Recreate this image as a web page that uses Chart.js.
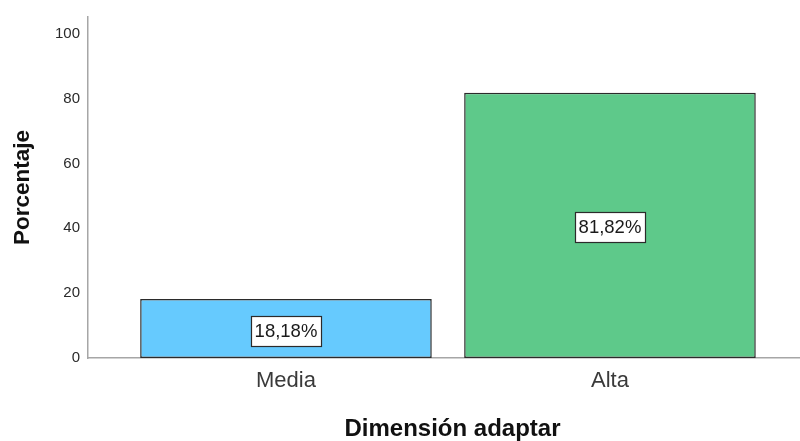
<!DOCTYPE html>
<html>
<head>
<meta charset="utf-8">
<script src="https://cdn.jsdelivr.net/npm/chart.js@4/dist/chart.umd.min.js"></script>
<style>
  html, body { margin: 0; padding: 0; background: #fff; overflow: hidden; }
  #wrap { width: 800px; height: 441px; overflow: hidden; }
  #box { width: 817px; height: 441px; }
</style>
</head>
<body>
<div id="wrap"><div id="box"><canvas id="c"></canvas></div></div>
<script>
// Categories and percentages
const categories = ['Media', 'Alta'];
const percentages = [18.18, 81.82];
const barColors = ['#66cafe', '#5ec98a'];
const yTicks = [0, 20, 40, 60, 80, 100];

const points = categories.map((c, i) => ({ x: i, y: percentages[i] }));
const FONT = '"Liberation Sans", Arial, sans-serif';

// Boxed value labels in the middle of each bar
const valueBoxes = {
  id: 'valueBoxes',
  afterDatasetsDraw(chart) {
    const ctx = chart.ctx;
    const meta = chart.getDatasetMeta(0);
    const yScale = chart.scales.y;
    ctx.save();
    ctx.font = '18.5px ' + FONT;
    ctx.textAlign = 'center';
    ctx.textBaseline = 'middle';
    meta.data.forEach((bar, i) => {
      const txt = percentages[i].toFixed(2).replace('.', ',') + '%';
      const cx = bar.x;
      const cy = yScale.getPixelForValue(percentages[i] / 2) + 2;
      const w = Math.round(ctx.measureText(txt).width + 7);
      const h = 30;
      const x0 = Math.round(cx - w / 2) + 0.5;
      const y0 = Math.round(cy - h / 2) + 0.5;
      ctx.fillStyle = '#ffffff';
      ctx.fillRect(x0, y0, w, h);
      ctx.strokeStyle = '#2b2b2b';
      ctx.lineWidth = 1.2;
      ctx.strokeRect(x0, y0, w, h);
      ctx.fillStyle = '#1a1a1a';
      ctx.fillText(txt, cx, cy + 1);
    });
    ctx.restore();
  }
};

new Chart(document.getElementById('c'), {
  type: 'bar',
  data: {
    datasets: [{
      data: points,
      backgroundColor: barColors,
      borderColor: '#2b2b2b',
      borderWidth: 1.5,
      borderSkipped: false,
      categoryPercentage: 1,
      barPercentage: 0.9
    }]
  },
  options: {
    responsive: true,
    maintainAspectRatio: false,
    animation: false,
    layout: { padding: { top: 15, left: 0, right: 0, bottom: 0 } },
    plugins: { legend: { display: false }, tooltip: { enabled: false } },
    scales: {
      x: {
        type: 'linear',
        offset: false,
        min: -0.611,
        max: 1.639,
        afterBuildTicks(scale) { scale.ticks = categories.map((c, i) => ({ value: i })); },
        afterFit(scale) { scale.height = 83; },
        ticks: {
          callback: (v) => categories[v],
          color: '#3a3a3a',
          padding: 10,
          maxRotation: 0,
          font: { family: FONT, size: 22 }
        },
        grid: { display: false, drawTicks: false },
        border: { display: true, color: '#a6a6a6', width: 1.5 },
        title: {
          display: true,
          text: 'Dimensión adaptar',
          color: '#111111',
          padding: { top: 0, bottom: 0 },
          font: { family: FONT, size: 24, weight: 'bold', lineHeight: 1 }
        }
      },
      y: {
        min: 0,
        max: 105.2,
        afterBuildTicks(scale) { scale.ticks = yTicks.map(v => ({ value: v })); },
        afterFit(scale) { scale.width = 88; },
        ticks: {
          color: '#2a2a2a',
          padding: 8,
          font: { family: FONT, size: 15 }
        },
        grid: { display: false, drawTicks: false },
        border: { display: true, color: '#a6a6a6', width: 1.5 },
        title: {
          display: true,
          text: 'Porcentaje',
          color: '#111111',
          padding: { top: 12, bottom: 0 },
          font: { family: FONT, size: 22.5, weight: 'bold', lineHeight: 1 }
        }
      }
    }
  },
  plugins: [valueBoxes]
});
</script>
</body>
</html>
